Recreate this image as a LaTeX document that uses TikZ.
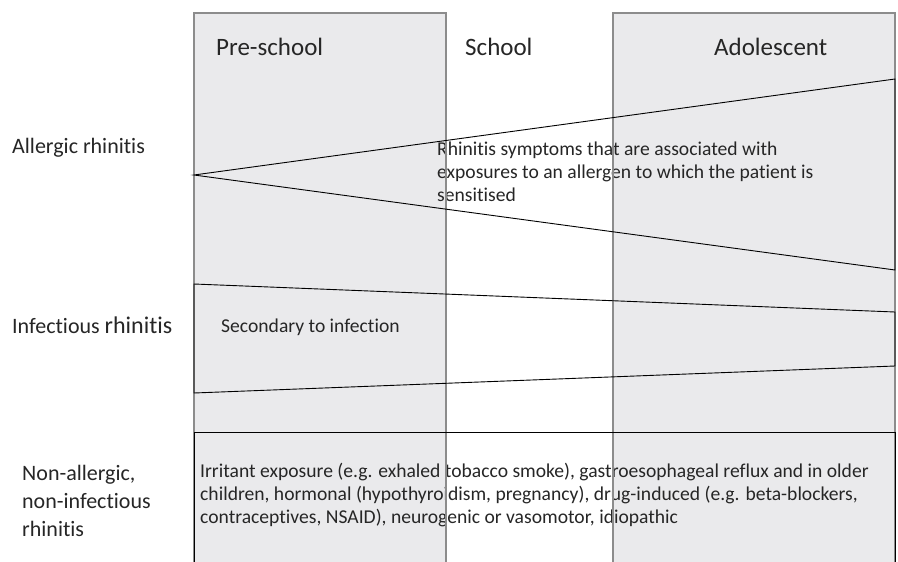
\documentclass[tikz,border=0pt]{standalone}
\usepackage{fontspec}
\setmainfont{Carlito}[Ligatures=NoCommon]
\usepackage{xcolor}
\definecolor{colfill}{HTML}{EAEAEC}
\definecolor{coledge}{HTML}{8C8C8C}
\definecolor{txtgray}{HTML}{262626}

\begin{document}
\begin{tikzpicture}[x=1pt,y=-1pt,
		ageedge/.style={draw=coledge,line width=2.4pt},
		band/.style={draw=black,line width=0.9pt,line join=miter},
		head/.style={anchor=west,inner sep=0pt,text=txtgray,font=\fontsize{25}{30}\selectfont},
		rowlabel/.style={anchor=west,inner sep=0pt,text=txtgray,align=left,font=\fontsize{22}{28}\selectfont},
		note/.style={anchor=west,inner sep=0pt,text=txtgray,align=left,font=\fontsize{19.6}{23}\selectfont}]
		\useasboundingbox (0,0) rectangle (898,562);
		\fill[white] (0,0) rectangle (898,562);
		\fill[colfill] (194,13) rectangle (446,562);
		\fill[colfill] (613,13) rectangle (895,562);
		\node[head] (preschool) at (216,47) {Pre-school};
		\node[head] (school) at (465,47) {School};
		\node[head] (adolescent) at (714,47) {Adolescent};
		\node[rowlabel] (allergic) at (12,148) {Allergic rhinitis};
		\node[rowlabel] (infectious) at (12,325) {Infectious {\fontsize{24}{28}\selectfont rhinitis}};
		\node[rowlabel] (nonallergic) at (22,501) {Non-allergic,\\non-infectious\\rhinitis};
		\node[note] (allergicnote) at (437,172) {Rhinitis symptoms that are associated with\\exposures to an allergen to which the patient is\\sensitised};
		\node[note] (infectiousnote) at (221,327) {Secondary to infection};
		\node[note] (nonallergicnote) at (200,495) {Irritant exposure (e.g. exhaled tobacco smoke), gastroesophageal reflux and in older\\children, hormonal (hypothyroidism, pregnancy), drug-induced (e.g. beta-blockers,\\contraceptives, NSAID), neurogenic or vasomotor, idiopathic};
		\draw[ageedge] (194,563) -- (194,13) -- (446,13) -- (446,563);
		\draw[ageedge] (613,563) -- (613,13) -- (895,13) -- (895,563);
		\draw[band] (895,79) -- (194,175) -- (895,270) -- cycle;
		\draw[band] (194,284) -- (895,312) -- (895,366) -- (194,393) -- cycle;
		\draw[band] (194,563) -- (194,432) -- (895,432) -- (895,563);
	\end{tikzpicture}
\end{document}
